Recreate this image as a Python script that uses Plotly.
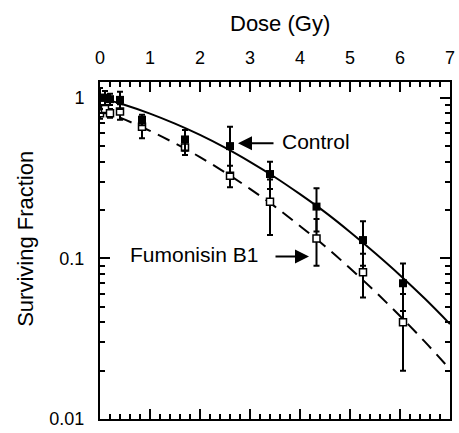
import plotly.graph_objects as go

# Data
dose = [0.0, 0.1, 0.2, 0.4, 0.84, 1.7, 2.6, 3.4, 4.33, 5.26, 6.06]
control_sf = [1.0, 1.0, 0.98, 0.97, 0.73, 0.55, 0.50, 0.335, 0.21, 0.13, 0.070]
control_err = [0.15, 0.10, 0.08, 0.12, 0.055, 0.08, 0.16, 0.065, 0.063, 0.04, 0.023]
fb1_sf = [0.80, 0.85, 0.80, 0.82, 0.66, 0.49, 0.327, 0.225, 0.133, 0.082, 0.040]
fb1_err = [0.06, 0.05, 0.05, 0.09, 0.10, 0.05, 0.05, 0.085, 0.043, 0.025, 0.02]

curve_dose = [0, 0.5, 1, 1.5, 2, 2.5, 3, 3.5, 4, 4.5, 5, 5.5, 6, 6.5, 7]
control_fit = [1.0, 0.901, 0.797, 0.690, 0.587, 0.489, 0.399, 0.320, 0.251, 0.194,
               0.146, 0.108, 0.0786, 0.056, 0.039]
fb1_fit = [0.84, 0.730, 0.622, 0.520, 0.427, 0.343, 0.271, 0.210, 0.159, 0.119,
           0.0868, 0.0622, 0.0438, 0.0302, 0.0204]

x_ticks = [0, 1, 2, 3, 4, 5, 6, 7]
y_ticks = [0.01, 0.1, 1]
y_ticktext = ["0.01", "0.1", "1"]
y_minor = [0.02, 0.03, 0.04, 0.05, 0.06, 0.07, 0.08, 0.09,
           0.2, 0.3, 0.4, 0.5, 0.6, 0.7, 0.8, 0.9]

FONT = "Liberation Sans, Arial, Helvetica, sans-serif"

fig = go.Figure()

fig.add_trace(go.Scatter(x=curve_dose, y=control_fit, mode="lines",
                         line=dict(color="black", width=2, shape="spline"),
                         showlegend=False, hoverinfo="skip"))
fig.add_trace(go.Scatter(x=curve_dose, y=fb1_fit, mode="lines",
                         line=dict(color="black", width=2, shape="spline", dash="13px,8px"),
                         showlegend=False, hoverinfo="skip"))

fig.add_trace(go.Scatter(x=dose, y=fb1_sf, mode="markers",
                         error_y=dict(type="data", array=fb1_err, color="black",
                                      thickness=2, width=3),
                         marker=dict(symbol="square", size=7, color="white",
                                     line=dict(color="black", width=1.5)),
                         showlegend=False))
fig.add_trace(go.Scatter(x=dose, y=control_sf, mode="markers",
                         error_y=dict(type="data", array=control_err, color="black",
                                      thickness=2, width=3),
                         marker=dict(symbol="square", size=8, color="black"),
                         showlegend=False))

fig.update_xaxes(range=[0, 7], side="top", tickvals=x_ticks,
                 ticks="inside", ticklen=10, tickwidth=2, tickcolor="black",
                 minor=dict(ticks="inside", ticklen=5, tickwidth=1.5, dtick=0.2,
                            tickcolor="black", showgrid=False),
                 showline=True, linewidth=2, linecolor="black", mirror="allticks",
                 showgrid=False, zeroline=False,
                 tickfont=dict(family=FONT, size=18, color="black"),
                 ticklabelstandoff=9)
fig.update_yaxes(type="log", range=[-2, 0.098], tickvals=y_ticks, ticktext=y_ticktext,
                 ticks="inside", ticklen=10, tickwidth=2, tickcolor="black",
                 minor=dict(ticks="inside", ticklen=5, tickwidth=1.5, tickvals=y_minor,
                            tickcolor="black", showgrid=False),
                 showline=True, linewidth=2, linecolor="black", mirror="allticks",
                 showgrid=False, zeroline=False,
                 tickfont=dict(family=FONT, size=18, color="black"),
                 ticklabelstandoff=10)

annos = [
    dict(text="Dose (Gy)", xref="paper", yref="paper", x=0.515, y=1.174,
         xanchor="center", yanchor="middle", showarrow=False,
         font=dict(family=FONT, size=22, color="black")),
    dict(text="Surviving Fraction", xref="paper", yref="paper", x=-0.211, y=0.535,
         xanchor="center", yanchor="middle", textangle=-90, showarrow=False,
         font=dict(family=FONT, size=22, color="black")),
    dict(text="Control", x=3.59, y=-0.27, xanchor="left", yanchor="middle", showarrow=False,
         font=dict(family=FONT, size=21, color="black")),
    dict(text="Fumonisin B1", x=3.19, y=-0.975, xanchor="right", yanchor="middle",
         showarrow=False, font=dict(family=FONT, size=21, color="black")),
    dict(text="", x=2.76, y=-0.284, ax=37, ay=0, showarrow=True,
         arrowhead=2, arrowsize=1.4, arrowwidth=2, arrowcolor="black"),
    dict(text="", x=4.18, y=-0.988, ax=-35, ay=0, showarrow=True,
         arrowhead=2, arrowsize=1.4, arrowwidth=2, arrowcolor="black"),
]
fig.update_layout(annotations=annos)

fig.update_layout(width=459, height=433, margin=dict(l=100, r=4, t=82, b=11),
                  plot_bgcolor="white", paper_bgcolor="white",
                  font=dict(family=FONT, color="black"))

fig.write_html("out.html")
